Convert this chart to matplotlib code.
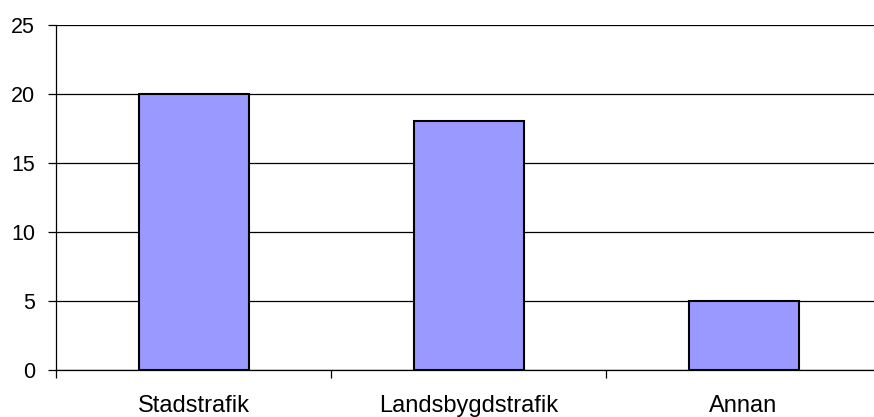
import matplotlib.pyplot as plt
import numpy as np

categories = ["Stadstrafik", "Landsbygdstrafik", "Annan"]
values = [20, 18, 5]
y_ticks = [0, 5, 10, 15, 20, 25]

plt.rcParams['font.family'] = ['Liberation Sans', 'DejaVu Sans']

fig = plt.figure(figsize=(8.74, 4.17), dpi=100)
ax = fig.add_axes([0.0641, 0.1127, 0.9440, 0.8285])

x = np.arange(len(categories))
ax.bar(x, values, width=0.4, color='#9999ff', edgecolor='black',
       linewidth=1.5, zorder=3)

ax.set_xlim(-0.5, len(categories) - 0.5)
ax.set_ylim(0, 25)
ax.set_yticks(y_ticks)
ax.yaxis.grid(True, color='black', linewidth=0.9, zorder=0)

# category labels centred under bars, tick marks on the boundaries
ax.set_xticks(np.append(x - 0.5, x[-1] + 0.5))
ax.set_xticklabels([])
ax.set_xticks(x, minor=True)
ax.set_xticklabels(categories, minor=True)
ax.tick_params(axis='x', which='major', length=6, width=0.9, color='black')
ax.tick_params(axis='x', which='minor', length=0, pad=18, labelsize=17)
ax.tick_params(axis='y', length=6, width=0.9, pad=9, labelsize=15.5)

for side in ['top', 'right']:
    ax.spines[side].set_visible(False)
for side in ['left', 'bottom']:
    ax.spines[side].set_linewidth(0.9)

fig.savefig("out.png", dpi=100)
